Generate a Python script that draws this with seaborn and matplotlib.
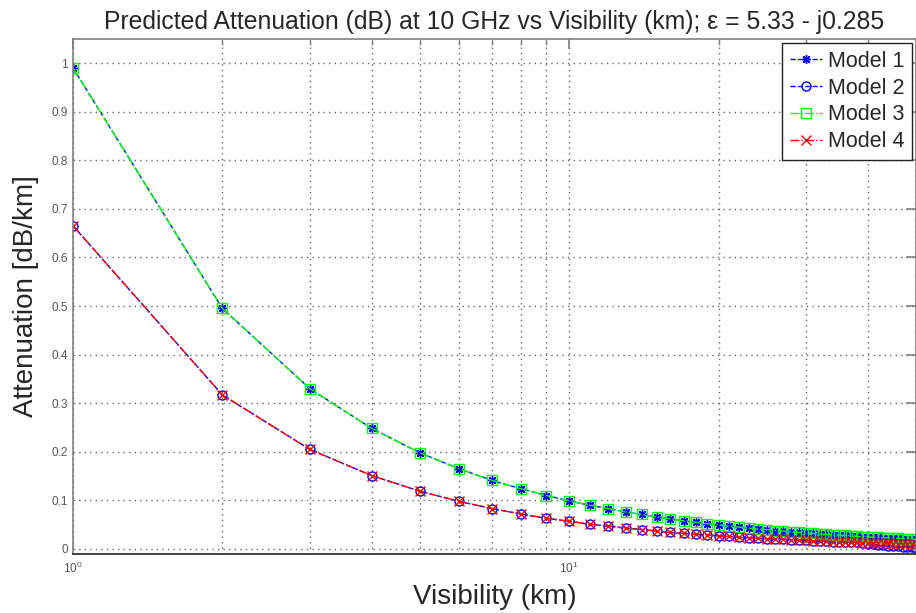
import matplotlib
matplotlib.use("Agg")
import matplotlib.pyplot as plt
import seaborn as sns
import pandas as pd
import numpy as np
from matplotlib.ticker import LogLocator, FixedLocator

visibility = list(range(1, 51))

model3 = [0.990, 0.495, 0.330, 0.248, 0.198, 0.165, 0.141, 0.124, 0.110, 0.099,
          0.090, 0.083, 0.076, 0.071, 0.066, 0.062, 0.058, 0.055, 0.052, 0.050,
          0.047, 0.045, 0.043, 0.041, 0.040, 0.038, 0.037, 0.035, 0.034, 0.033,
          0.032, 0.031, 0.030, 0.029, 0.028, 0.028, 0.027, 0.026, 0.025, 0.025,
          0.024, 0.024, 0.023, 0.023, 0.022, 0.022, 0.021, 0.021, 0.020, 0.020]

model1 = [0.990, 0.495, 0.330, 0.248, 0.198, 0.165, 0.141, 0.124, 0.110, 0.099,
          0.090, 0.083, 0.076, 0.071, 0.066, 0.062, 0.058, 0.055, 0.052, 0.050,
          0.047, 0.045, 0.043, 0.041, 0.040, 0.038, 0.037, 0.035, 0.034, 0.033,
          0.032, 0.031, 0.030, 0.029, 0.028, 0.028, 0.027, 0.026, 0.025, 0.025,
          0.024, 0.024, 0.023, 0.023, 0.022, 0.022, 0.021, 0.021, 0.020, 0.020]

model4 = [0.665, 0.317, 0.205, 0.151, 0.119, 0.098, 0.083, 0.072, 0.063, 0.057,
          0.051, 0.047, 0.043, 0.040, 0.037, 0.034, 0.032, 0.030, 0.029, 0.027,
          0.026, 0.024, 0.023, 0.022, 0.021, 0.020, 0.020, 0.019, 0.018, 0.018,
          0.017, 0.016, 0.016, 0.015, 0.015, 0.014, 0.014, 0.014, 0.013, 0.013,
          0.013, 0.012, 0.012, 0.012, 0.011, 0.011, 0.011, 0.011, 0.010, 0.010]

model2 = [0.665, 0.317, 0.205, 0.151, 0.119, 0.098, 0.083, 0.072, 0.063, 0.057,
          0.051, 0.047, 0.043, 0.040, 0.037, 0.034, 0.032, 0.030, 0.029, 0.027,
          0.026, 0.024, 0.023, 0.022, 0.021, 0.020, 0.020, 0.019, 0.018, 0.018,
          0.017, 0.016, 0.016, 0.015, 0.015, 0.014, 0.014, 0.0135, 0.012, 0.011,
          0.010, 0.009, 0.008, 0.007, 0.006, 0.0052, 0.0045, 0.0038, 0.0032, 0.0026]

series_names = ["Model 1", "Model 2", "Model 3", "Model 4"]
series_values = [model1, model2, model3, model4]
colors = ["#0000FF", "#0000FF", "#00FF00", "#FF0000"]
markers = [(8, 2, 0), "o", "s", "x"]
linestyles = ["--", "--", "-.", "-."]

ytick_values = [0, 0.1, 0.2, 0.3, 0.4, 0.5, 0.6, 0.7, 0.8, 0.9, 1.0]
ytick_labels = ["0", "0.1", "0.2", "0.3", "0.4", "0.5", "0.6", "0.7", "0.8", "0.9", "1"]

sns.set_style("white")
plt.rcParams["font.family"] = ["Liberation Sans", "DejaVu Sans"]
plt.rcParams["mathtext.fontset"] = "custom"
plt.rcParams["mathtext.rm"] = "Liberation Sans"

fig = plt.figure(figsize=(9.16, 6.13), dpi=100)
ax = fig.add_axes([73 / 916, 59 / 613, 843 / 916, 515 / 613])

for name, vals, c, m, ls in zip(series_names, series_values, colors, markers, linestyles):
    df = pd.DataFrame({"Visibility": visibility, "Attenuation": vals})
    sns.lineplot(data=df, x="Visibility", y="Attenuation", ax=ax, color=c,
                 marker=m, linestyle=ls, linewidth=1.0, markersize=6.5,
                 markerfacecolor="none", markeredgecolor=c, markeredgewidth=1.0,
                 label=name)

ax.set_xscale("log")
ax.set_xlim(1, 50)
ax.set_ylim(-0.0103, 1.0494)
ax.set_yticks(ytick_values)
ax.set_yticklabels(ytick_labels)
ax.xaxis.set_major_locator(FixedLocator([1, 10]))
ax.xaxis.set_minor_locator(LogLocator(base=10, subs=np.arange(2, 10)))
ax.xaxis.set_minor_formatter(matplotlib.ticker.NullFormatter())

grid_ls = (0, (1, 3))
ax.grid(True, which="major", axis="both", linestyle=grid_ls, color="#666666", linewidth=1.0)
ax.grid(True, which="minor", axis="x", linestyle=grid_ls, color="#666666", linewidth=1.0)

ax.tick_params(axis="both", which="major", direction="in", length=7, width=1.2,
               color="#808080", labelsize=8.5, labelcolor="#555555",
               top=True, right=True)
ax.tick_params(axis="x", which="minor", direction="in", length=4, width=1.0,
               color="#808080", top=True)
ax.tick_params(axis="x", which="major", pad=5)

for s in ["left", "top", "right"]:
    ax.spines[s].set_color("#808080")
    ax.spines[s].set_linewidth(1.2)
ax.spines["bottom"].set_color("#222222")
ax.spines["bottom"].set_linewidth(1.2)

ax.set_title("Predicted Attenuation (dB) at 10 GHz vs Visibility (km); \u03b5 = 5.33 - j0.285",
             fontsize=17.8, pad=7)
ax.set_xlabel("Visibility (km)", fontsize=20, labelpad=6)
ax.set_ylabel("Attenuation [dB/km]", fontsize=20, labelpad=9)

leg = ax.legend(loc="upper right", fontsize=15.5, frameon=True, fancybox=False,
                edgecolor="#222222", framealpha=1, borderpad=0.35, labelspacing=0.27,
                handlelength=1.5, handletextpad=0.25, borderaxespad=0.2)
leg.get_frame().set_linewidth(1.0)

fig.savefig("out.png", dpi=100)
